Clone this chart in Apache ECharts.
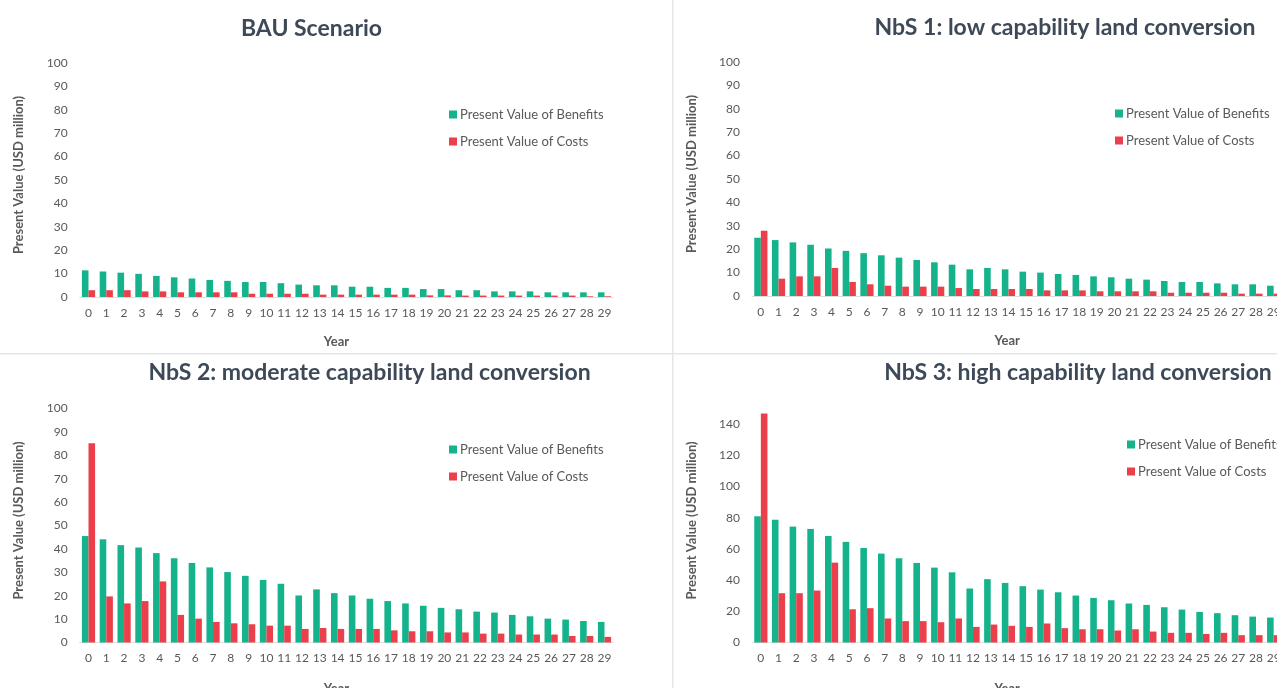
<!DOCTYPE html>
<html>
<head>
<meta charset="utf-8">
<script src="https://cdn.jsdelivr.net/npm/echarts@6/dist/echarts.min.js"></script>
<style>
html,body{margin:0;padding:0;background:#fff;}
#c{width:1277px;height:688px;}
</style>
</head>
<body>
<div id="c"></div>
<script>
const years = ['0','1','2','3','4','5','6','7','8','9','10','11','12','13','14','15','16','17','18','19','20','21','22','23','24','25','26','27','28','29'];
const seriesNames = ['Present Value of Benefits','Present Value of Costs'];
const panelTitles = ['BAU Scenario','NbS 1: low capability land conversion','NbS 2: moderate capability land conversion','NbS 3: high capability land conversion'];

const bauBenefits = [11.4,10.9,10.4,9.9,9.0,8.4,7.9,7.3,6.9,6.4,6.4,5.9,5.3,5.0,5.0,4.4,4.4,3.9,3.9,3.4,3.4,2.9,2.9,2.4,2.4,2.4,2.0,2.0,2.0,2.0];
const bauCosts = [2.9,2.9,2.9,2.4,2.4,2.0,2.0,2.0,2.0,1.4,1.4,1.4,1.4,1.0,1.0,1.0,1.0,1.0,1.0,0.7,0.7,0.6,0.6,0.6,0.6,0.6,0.6,0.6,0.3,0.3];

const nbs1Benefits = [24.9,23.9,22.9,21.9,20.3,19.3,18.3,17.4,16.4,15.4,14.4,13.4,11.4,12.0,11.4,10.4,10.0,9.4,9.0,8.4,8.0,7.4,7.0,6.4,6.0,6.0,5.4,5.0,5.0,4.4];
const nbs1Costs = [27.9,7.4,8.4,8.4,12.0,6.0,5.0,4.4,4.0,4.0,4.0,3.4,3.0,3.0,3.0,3.0,2.4,2.4,2.4,2.0,2.0,2.0,2.0,1.4,1.4,1.4,1.4,1.0,1.0,1.0];

const nbs2Benefits = [45.5,44.1,41.6,40.6,38.2,36.0,34.0,32.1,30.1,28.5,26.7,25.1,20.1,22.7,21.1,20.1,18.7,17.7,16.7,15.7,14.8,14.2,13.2,12.8,11.8,11.2,10.2,9.8,9.2,8.8];
const nbs2Costs = [85.2,19.7,16.7,17.7,26.1,11.8,10.2,8.8,8.2,7.8,7.2,7.2,5.8,6.2,5.8,5.8,5.8,5.2,4.8,4.8,4.3,4.3,3.8,3.8,3.4,3.4,3.4,2.8,2.8,2.4];

const nbs3Benefits = [80.9,78.7,74.3,72.8,68.3,64.5,60.6,57.0,54.0,51.0,48.0,45.0,34.6,40.6,38.2,36.1,33.9,32.2,30.1,28.6,27.1,25.0,24.1,22.6,21.1,19.6,18.8,17.5,16.6,16.0];
const nbs3Costs = [146.8,31.6,31.6,33.3,51.2,21.3,22.0,15.4,13.7,13.7,13.0,15.4,10.0,11.5,10.7,10.0,12.2,9.2,8.5,8.5,7.7,8.5,7.0,6.2,6.2,5.5,6.2,4.7,4.7,4.7];

const yMax = [100,100,100,150];
const yInterval = [10,10,10,20];
const yLabelMax = [100,100,100,140];

const benefits = [bauBenefits,nbs1Benefits,nbs2Benefits,nbs3Benefits];
const costs = [bauCosts,nbs1Costs,nbs2Costs,nbs3Costs];

const GREEN = '#15B38B';
const RED = '#EB3F4B';
const FONT = 'Lato, "Open Sans", sans-serif';
const LABEL = '#595959';

// layout
const grids = [
  {left:79.6, top:63, width:533.8, height:234},
  {left:752, top:62, width:530.5, height:234},
  {left:79.6, top:408.5, width:533.8, height:234},
  {left:752, top:408.5, width:530.5, height:234}
];
const titlePos = [[311.5,17],[1065,16],[369.5,361],[1078,361]];
const legendPos = [[449,108],[1115,107],[449,443],[1127,438]];
const yearGap = [38,38,40,40];

const chart = echarts.init(document.getElementById('c'), null, {renderer:'canvas'});

const option = {
  backgroundColor:'#fff',
  animation:false,
  textStyle:{fontFamily:FONT},
  title: panelTitles.map((t,i)=>({
    text:t, left:titlePos[i][0], top:titlePos[i][1], textAlign:'center', padding:0,
    textStyle:{fontFamily:FONT, fontSize:23, fontWeight:'bold', color:'#3E4958'}
  })),
  legend: legendPos.map((p,i)=>({
    data:seriesNames, orient:'vertical', left:p[0], top:p[1], padding:0,
    icon:'rect', itemWidth:8, itemHeight:8, itemGap:14,
    textStyle:{fontFamily:FONT, fontSize:13, color:LABEL, padding:[0,0,0,-2]},
    selectedMode:false
  })),
  grid: grids.map(g=>({left:g.left, top:g.top, width:g.width, height:g.height, containLabel:false, outerBoundsMode:'none'})),
  xAxis: grids.map((g,i)=>({
    type:'category', gridIndex:i, data:years,
    name:'Year', nameLocation:'middle', nameGap:yearGap[i],
    nameTextStyle:{fontFamily:FONT, fontSize:13, fontWeight:'bold', color:LABEL, padding:[0,20,0,0]},
    axisLine:{show:true, lineStyle:{color:'#dedede', width:1}},
    axisTick:{show:false},
    axisLabel:{interval:0, fontFamily:FONT, fontSize:12, color:LABEL, margin:10, hideOverlap:false}
  })),
  yAxis: grids.map((g,i)=>({
    type:'value', gridIndex:i, min:0, max:yMax[i], interval:yInterval[i],
    name:'Present Value (USD million)', nameLocation:'middle', nameGap:54,
    nameTextStyle:{fontFamily:FONT, fontSize:13, fontWeight:'bold', color:LABEL, padding:[0,0,0,10]},
    axisLine:{show:false}, axisTick:{show:false},
    splitLine:{show:false},
    axisLabel:{fontFamily:FONT, fontSize:12, color:LABEL, margin:12,
      formatter:(v)=> v>yLabelMax[i] ? '' : String(v)}
  })),
  series: [].concat(...grids.map((g,i)=>[
    {name:seriesNames[0], type:'bar', xAxisIndex:i, yAxisIndex:i, data:benefits[i],
     itemStyle:{color:GREEN}, barWidth:6.6, barGap:'0%'},
    {name:seriesNames[1], type:'bar', xAxisIndex:i, yAxisIndex:i, data:costs[i],
     itemStyle:{color:RED}, barWidth:6.6, barGap:'0%'}
  ])),
  graphic:[
    {type:'rect', shape:{x:672, y:0, width:1.5, height:688}, style:{fill:'#e4e6ea'}, silent:true},
    {type:'rect', shape:{x:0, y:353, width:1277, height:1.5}, style:{fill:'#e4e6ea'}, silent:true}
  ]
};
chart.setOption(option);
</script>
</body>
</html>
